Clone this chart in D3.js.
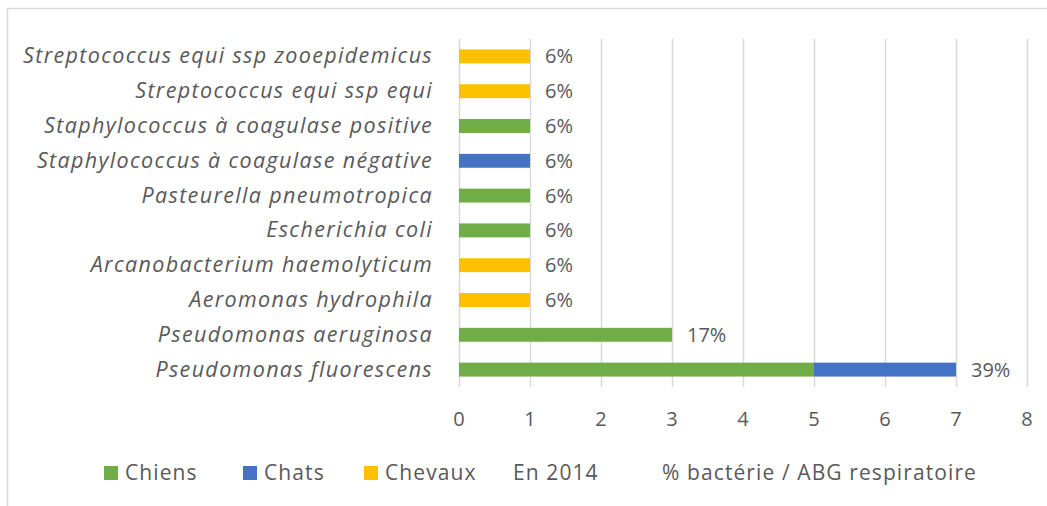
<!DOCTYPE html>
<html>
<head>
<meta charset="utf-8">
<script src="https://cdn.jsdelivr.net/npm/d3@7"></script>
<style>
  body { margin: 0; background: #fff; }
  text { font-family: "Open Sans", sans-serif; fill: #595959; }
</style>
</head>
<body>
<svg id="canvas" width="1047" height="506"></svg>
<script>
// categories, top to bottom as in the chart
const bacteria = [
  "Streptococcus equi ssp zooepidemicus",
  "Streptococcus equi ssp equi",
  "Staphylococcus à coagulase positive",
  "Staphylococcus à coagulase négative",
  "Pasteurella pneumotropica",
  "Escherichia coli",
  "Arcanobacterium haemolyticum",
  "Aeromonas hydrophila",
  "Pseudomonas aeruginosa",
  "Pseudomonas fluorescens"
];
const chiens  = [0, 0, 1, 0, 1, 1, 0, 0, 3, 5];
const chats   = [0, 0, 0, 1, 0, 0, 0, 0, 0, 2];
const chevaux = [1, 1, 0, 0, 0, 0, 1, 1, 0, 0];
const percents = ["6%", "6%", "6%", "6%", "6%", "6%", "6%", "6%", "17%", "39%"];
const xTicks = [0, 1, 2, 3, 4, 5, 6, 7, 8];
const seriesNames = ["Chiens", "Chats", "Chevaux"];
const legendNames = ["Chiens", "Chats", "Chevaux", "En 2014", "% bactérie / ABG respiratoire"];

const colors = { Chiens: "#70AD47", Chats: "#4472C4", Chevaux: "#FFC000" };

const canvas = d3.select("#canvas");

// chart border
canvas.append("rect")
  .attr("x", 7.5).attr("y", 8.5)
  .attr("width", 1100).attr("height", 600)
  .attr("fill", "none")
  .attr("stroke", "#D9D9D9")
  .attr("stroke-width", 1.5);

const rows = bacteria.map((name, i) => ({
  name: name,
  Chiens: chiens[i],
  Chats: chats[i],
  Chevaux: chevaux[i],
  label: percents[i]
}));

const x = d3.scaleLinear().domain([0, 8]).range([459, 1027]);
const y = d3.scaleBand()
  .domain(bacteria)
  .range([39, 387])
  .paddingInner(0.6)
  .paddingOuter(0.3);

// gridlines
canvas.append("g")
  .selectAll("line")
  .data(xTicks)
  .enter()
  .append("line")
  .attr("x1", (d) => x(d) + 0.5)
  .attr("x2", (d) => x(d) + 0.5)
  .attr("y1", 39)
  .attr("y2", 387)
  .attr("stroke", "#D9D9D9")
  .attr("stroke-width", 1.5);

// tick labels
canvas.append("g")
  .selectAll("text")
  .data(xTicks)
  .enter()
  .append("text")
  .attr("x", (d) => x(d))
  .attr("y", 426)
  .attr("text-anchor", "middle")
  .style("font-size", "20px")
  .text((d) => d);

// stacked bars
const stacked = d3.stack().keys(seriesNames)(rows);

canvas.append("g")
  .selectAll("g")
  .data(stacked)
  .enter()
  .append("g")
  .attr("fill", (s) => colors[s.key])
  .selectAll("rect")
  .data((s) => s.filter((d) => d[1] > d[0]))
  .enter()
  .append("rect")
  .attr("x", (d) => x(d[0]))
  .attr("width", (d) => x(d[1]) - x(d[0]))
  .attr("y", (d) => y(d.data.name))
  .attr("height", y.bandwidth());

// category labels
canvas.append("g")
  .selectAll("text")
  .data(rows)
  .enter()
  .append("text")
  .attr("x", 433)
  .attr("y", (d) => y(d.name) + y.bandwidth() / 2 + 7)
  .attr("text-anchor", "end")
  .style("font-size", "21.5px")
  .style("letter-spacing", "1.35px")
  .style("font-style", "italic")
  .text((d) => d.name);

// percentage labels
canvas.append("g")
  .selectAll("text")
  .data(rows)
  .enter()
  .append("text")
  .attr("x", (d) => x(d.Chiens + d.Chats + d.Chevaux) + 15)
  .attr("y", (d) => y(d.name) + y.bandwidth() / 2 + 7)
  .style("font-size", "20px")
  .text((d) => d.label);

// legend
const legendX = [104, 243, 364, 513, 662];
const legend = canvas.append("g")
  .selectAll("g")
  .data(legendNames)
  .enter()
  .append("g")
  .attr("transform", (d, i) => `translate(${legendX[i]}, 473)`);

legend.filter((d) => colors[d])
  .append("rect")
  .attr("x", 0)
  .attr("y", -7)
  .attr("width", 14)
  .attr("height", 14)
  .attr("fill", (d) => colors[d]);

legend.append("text")
  .attr("x", (d) => (colors[d] ? 21 : 0))
  .attr("y", 7)
  .style("font-size", "21px")
  .style("letter-spacing", "1.1px")
  .text((d) => d);
</script>
</body>
</html>
